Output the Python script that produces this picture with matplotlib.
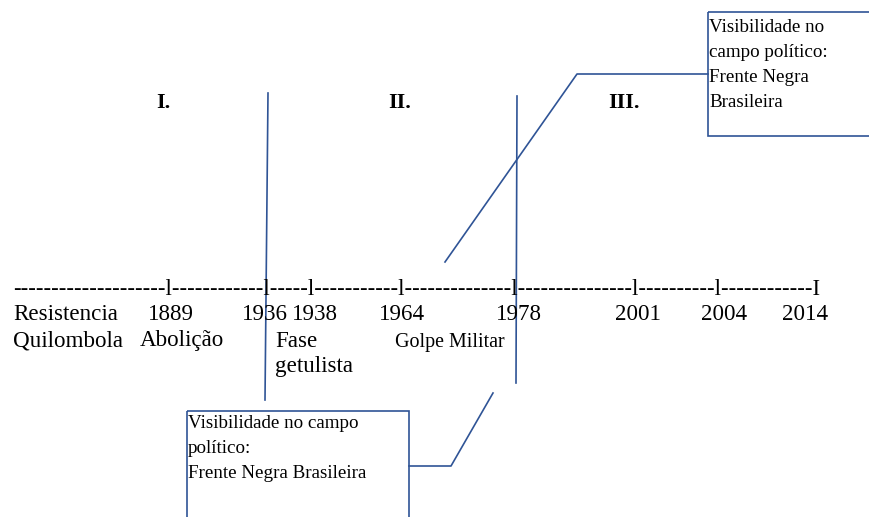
import matplotlib.pyplot as plt
from matplotlib.patches import Rectangle

# timeline data
dash_counts = [20, 12, 5, 11, 14, 15, 10, 12]   # dashes between tick marks
years = ["1889", "1936", "1938", "1964", "1978", "2001", "2004", "2014"]
year_x = [148, 242, 292, 379, 496, 615, 701, 782]
events = ["Resistencia\nQuilombola", "Abolição", "Fase\ngetulista", "Golpe Militar"]
event_x = [13, 140, 275, 395]
phases = ["I.", "II.", "III."]
phase_x = [156, 388, 608]
box_text_top = ["Visibilidade no", "campo político:", "Frente Negra", "Brasileira"]
box_text_bottom = ["Visibilidade no campo", "político:", "Frente Negra Brasileira"]

W, H = 869, 517
blue = "#2F5496"
px = 0.72  # pixel -> point at dpi 100
font = "Liberation Serif"

fig = plt.figure(figsize=(W / 100, H / 100), dpi=100)
ax = fig.add_axes([0, 0, 1, 1])
ax.set_xlim(0, W)
ax.set_ylim(H, 0)
ax.axis("off")

# dashed timeline made of text
line = "l".join("-" * n for n in dash_counts[:-1]) + "l" + "-" * dash_counts[-1] + "I"
ax.text(13, 295, line, fontsize=22.7 * px, family=font, va="baseline", ha="left")

for x, y in zip(year_x, years):
    ax.text(x, 320, y, fontsize=23 * px, family=font, va="baseline", ha="left")

# event labels
ax.text(event_x[0], 320, events[0].split("\n")[0], fontsize=23 * px, family=font, va="baseline")
ax.text(event_x[0], 346, events[0].split("\n")[1], fontsize=23 * px, family=font, va="baseline")
ax.text(event_x[1], 346, events[1], fontsize=23 * px, family=font, va="baseline")
for j, p in enumerate(events[2].split("\n")):
    ax.text(event_x[2], 347 + 25 * j, p, fontsize=23 * px, family=font, va="baseline")
ax.text(event_x[3], 347, events[3], fontsize=20 * px, family=font, va="baseline")

for x, p in zip(phase_x, phases):
    ax.text(x, 108, p, fontsize=22 * px, family=font, weight="bold", va="baseline")

# blue lines
lw = 1.2
ax.plot([268, 265], [93, 400], color=blue, lw=lw)
ax.plot([517, 516], [96, 383], color=blue, lw=lw)
ax.plot([445, 577, 708], [262, 74, 74], color=blue, lw=lw)
ax.plot([409, 451, 493], [466, 466, 393], color=blue, lw=lw)

# boxes
ax.add_patch(Rectangle((708, 12), 200, 124, fill=False, ec=blue, lw=lw))
ax.add_patch(Rectangle((187, 411), 222, 150, fill=False, ec=blue, lw=lw))

for i, t in enumerate(box_text_top):
    ax.text(709, 32 + 25 * i, t, fontsize=19 * px, family=font, va="baseline")
for i, t in enumerate(box_text_bottom):
    ax.text(188, 428 + 25 * i, t, fontsize=19 * px, family=font, va="baseline")

fig.savefig("out.png", dpi=100)
